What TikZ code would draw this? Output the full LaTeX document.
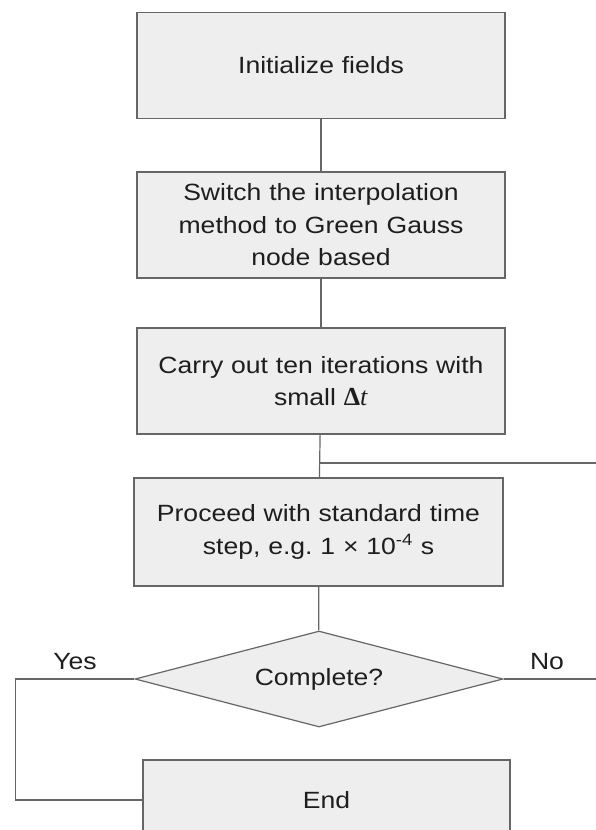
\documentclass[tikz,border=0pt]{standalone}
\usepackage{fontspec}
\setmainfont{Liberation Sans}[FakeStretch=1.13]
\newfontfamily\deltafont{Liberation Serif}
\usetikzlibrary{shapes.geometric}
\definecolor{boxfill}{HTML}{EEEEEE}
\definecolor{boxline}{HTML}{666666}
\definecolor{txt}{HTML}{1E1E1E}
\frenchspacing
\tikzset{
    stepbox/.style={draw=boxline, fill=boxfill, line width=1.2pt, minimum width=368pt, minimum height=106pt,
        inner sep=0pt, text width=350pt, align=center, text=txt, font=\fontsize{23.5}{32.5}\selectfont},
    decision/.style={diamond, aspect=3.8, draw=boxline, fill=boxfill, line width=1.2pt, minimum width=368pt,
        minimum height=96pt, inner sep=0pt, text=txt, font=\fontsize{23.5}{32.5}\selectfont},
    answer/.style={text=txt, font=\fontsize{23.5}{32.5}\selectfont},
    link/.style={draw=boxline, line width=1.2pt}
}
\begin{document}
\begin{tikzpicture}[x=1pt, y=-1pt]
    \useasboundingbox (0,0) rectangle (596,830);
    \clip (0,0) rectangle (596,830);
    \node[stepbox] (init) at (321,65.5) {Initialize fields};
    \node[stepbox] (switch) at (321,225) {Switch the interpolation\\method to Green Gauss\\node based};
    \node[stepbox] (warmup) at (321,381) {Carry out ten iterations with\\small {\deltafont\fontsize{26}{32.5}\selectfont\textbf{Δ}\textit{t}}};
    \node[stepbox, minimum width=369pt, minimum height=108pt] (proceed) at (318.5,532)
        {Proceed with standard time\\step, e.g. 1 × 10\textsuperscript{-4} s};
    \node[decision] (done) at (319,679) {Complete?};
    \node[stepbox, minimum width=367pt, minimum height=80pt] (finish) at (326.5,800) {End};
    \coordinate (noreturn) at (596,463);
    \coordinate (noexit) at (596,679);
    \node[answer] (yes) at (75,662) {Yes};
    \node[answer] (no) at (547,662) {No};
    \draw[link] (init) -- (switch);
    \draw[link] (switch) -- (warmup);
    \draw[link] (warmup) -- (proceed);
    \draw[link] (noreturn) -- (noreturn -| proceed.north);
    \draw[link] (proceed) -- (done);
    \draw[link] (done.east) -- (noexit);
    \draw[link] (done.west) -- ++(-119,0) |- (finish.west);
\end{tikzpicture}
\end{document}
